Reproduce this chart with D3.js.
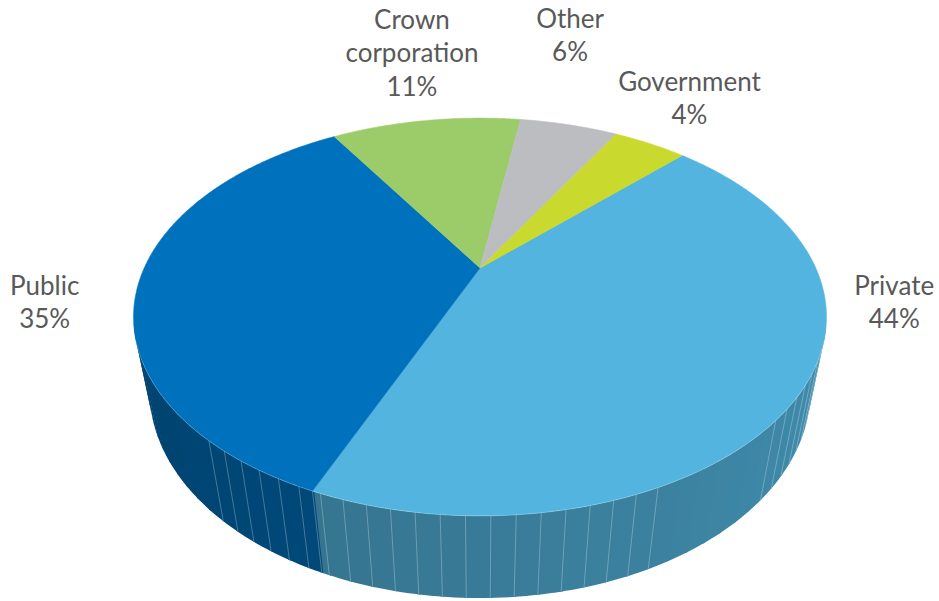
<!DOCTYPE html>
<html><head><meta charset="utf-8">
<script src="https://cdn.jsdelivr.net/npm/d3@7"></script>
<style>html,body{margin:0;padding:0;background:#fff;}svg{display:block;}</style>
</head><body>
<svg id="chart" width="939" height="601"></svg>
<script>
// ---- data ----
const categories = ["Private", "Public", "Crown corporation", "Other", "Government"];
const values = [43.8, 34.9, 11.2, 5.8, 4.3];
const labelLines = [["Private"], ["Public"], ["Crown", "corporation"], ["Other"], ["Government"]];
const colors = ["#53b5df", "#0071bc", "#9bcc69", "#bcbdc0", "#c9d92d"];

// ---- layout (3D perspective camera) ----
const cx = 480, cy0 = 268, F = 1133.7, Dcam = 3.376;
const alpha = 33.8 * Math.PI / 180, sa = Math.sin(alpha), ca = Math.cos(alpha);
const depthH = 0.2758;
const startAngle = 45 * Math.PI / 180;
const labelOffsets = [[91, -94], [-94, 12], [-14, -92], [1, -97], [39.5, -53]];
const lineGap = 33.5;
const deg = Math.PI / 180;
const seamSkip = [[136 * deg, 153 * deg], [222 * deg, 252 * deg]];

function project(X, Y, Z) {
  const depth = Dcam - (Y * sa + Z * ca);
  return [cx + F * X / depth, cy0 - F * (Y * ca - Z * sa) / depth];
}
function rim(theta, Y) { return project(Math.sin(theta), Y, -Math.cos(theta)); }

const svg = d3.select("#chart");
const pie = d3.pie().sort(null).value(d => d).startAngle(startAngle).endAngle(startAngle + 2 * Math.PI);
const arcs = pie(values);

const gSide = svg.append("g");
const gTop = svg.append("g");
const gSeam = svg.append("g");
const gLab = svg.append("g");

const line = d3.line();
const step = 3.27 * deg, off = 2.02 * deg, ext = 0.25 * deg;
const camZ = 1 / (Dcam * ca); // outer wall visible where Z > camZ

arcs.forEach((a, i) => {
  const cuts = [a.startAngle];
  let t = Math.ceil((a.startAngle - off) / step) * step + off;
  for (; t < a.endAngle; t += step) if (t > a.startAngle + 1e-6 && t < a.endAngle - 1e-6) cuts.push(t);
  cuts.push(a.endAngle);
  for (let j = 0; j < cuts.length - 1; j++) {
    const t0 = cuts[j], t1 = cuts[j + 1], tm = (t0 + t1) / 2;
    if (-Math.cos(tm) < camZ - 0.06) continue;
    const e0 = t0 - ext, e1 = t1 + ext;
    const pts = [];
    const n = 4;
    for (let k = 0; k <= n; k++) pts.push(rim(e0 + (e1 - e0) * k / n, 0));
    for (let k = n; k >= 0; k--) pts.push(rim(e0 + (e1 - e0) * k / n, -depthH));
    const f = 0.68 + 0.09 * Math.sin(tm);
    const c = d3.rgb(colors[i]);
    const sc = d3.rgb(c.r * f, c.g * f, c.b * f);
    gSide.append("path").attr("d", line(pts) + "Z").attr("fill", sc);
    const tn = ((t0 % (2 * Math.PI)) + 2 * Math.PI) % (2 * Math.PI);
    const skip = seamSkip.some(r => tn > r[0] && tn < r[1]);
    if (!skip && -Math.cos(t0) > camZ + 0.02) {
      const p0 = rim(t0, 0), p1 = rim(t0, -depthH);
      gSeam.append("line").attr("x1", p0[0]).attr("y1", p0[1]).attr("x2", p1[0]).attr("y2", p1[1])
        .attr("stroke", "#ffffff").attr("stroke-opacity", 0.3).attr("stroke-width", 0.9);
    }
  }
  const tp = [project(0, 0, 0)];
  const m = Math.max(2, Math.ceil((a.endAngle - a.startAngle) / (0.5 * deg)));
  for (let k = 0; k <= m; k++) tp.push(rim(a.startAngle + (a.endAngle - a.startAngle) * k / m, 0));
  gTop.append("path").attr("d", line(tp) + "Z").attr("fill", colors[i]).attr("stroke", colors[i]).attr("stroke-width", 0.5);
});

// faint light rim along the top edge of the visible wall
const rimPts = [];
const tA = Math.acos(-camZ), tB = 2 * Math.PI - Math.acos(-camZ);
for (let t = tA; t <= tB; t += 0.01) rimPts.push(rim(t, 0));
gSeam.append("path").attr("d", line(rimPts)).attr("fill", "none").attr("stroke", "#ffffff").attr("stroke-opacity", 0.25).attr("stroke-width", 0.8);

// labels
arcs.forEach((a, i) => {
  const mid = (a.startAngle + a.endAngle) / 2;
  const p = rim(mid, 0);
  const x = p[0] + labelOffsets[i][0], y = p[1] + labelOffsets[i][1];
  const lines = labelLines[i].concat([Math.round(values[i]) + "%"]);
  const txt = gLab.append("text").attr("x", x).attr("y", y).attr("text-anchor", "middle")
    .attr("font-family", "Lato, 'Open Sans', sans-serif").attr("font-size", 26).attr("fill", "#595959");
  lines.forEach((l, k) => txt.append("tspan").attr("x", x).attr("y", y + k * lineGap).text(l));
});
</script>
</body></html>
